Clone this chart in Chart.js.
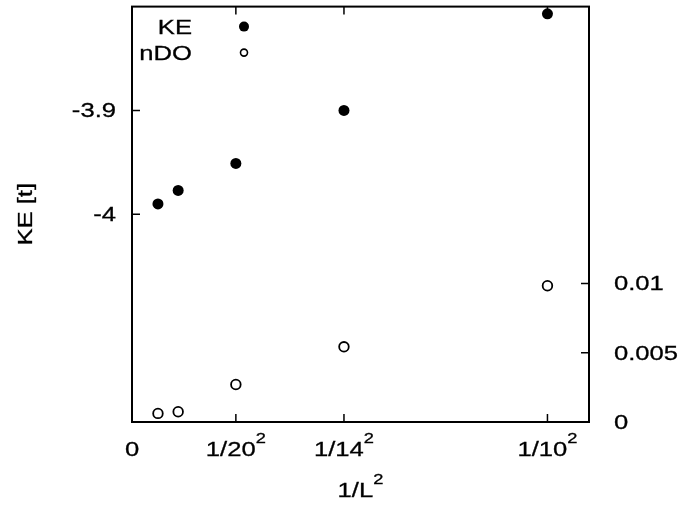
<!DOCTYPE html>
<html>
<head>
<meta charset="utf-8">
<script src="https://cdn.jsdelivr.net/npm/chart.js@4"></script>
<style>
  body { margin: 0; background: #fff; }
  #wrap { width: 678px; height: 505px; position: relative; }
</style>
</head>
<body>
<div id="wrap"><canvas id="ke__graph"></canvas></div>
<script>
// KE and nDO against 1/L^2

const xValues = [0.000625, 0.001111, 0.0025, 0.005102, 0.01];
const keValues = [-3.990, -3.977, -3.951, -3.900, -3.807];
const ndoValues = [0.00062, 0.00074, 0.00271, 0.00543, 0.00984];

const xTicks = [0, 0.0025, 0.005102, 0.01];
const xTickLabels = ['0', '1/20', '1/14', '1/10'];
const xTickSups = ['', '2', '2', '2'];
const keTicks = [-4, -3.9];
const keTickLabels = ['-4', '-3.9'];
const ndoTicks = [0, 0.005, 0.01];
const ndoTickLabels = ['0', '0.005', '0.01'];

const FONT = '"Liberation Sans", Arial, sans-serif';
const SX = 1.22; // the scanned lettering is wide

function txt(ctx, s, x, y, align, size, rot) {
  ctx.save();
  ctx.translate(x, y);
  if (rot) ctx.rotate(rot);
  ctx.scale(SX, 1);
  ctx.font = size + 'px ' + FONT;
  ctx.textAlign = align;
  ctx.lineWidth = 0.3;
  ctx.fillText(s, 0, 0);
  ctx.strokeText(s, 0, 0);
  ctx.restore();
}
function wid(ctx, s, size) {
  ctx.font = size + 'px ' + FONT;
  return ctx.measureText(s).width * SX;
}
// text with superscript, centred at x
function supText(ctx, s, sup, x, y) {
  const w1 = wid(ctx, s, 21);
  const w2 = sup ? wid(ctx, sup, 15) : 0;
  const x0 = x - (w1 + w2) / 2;
  txt(ctx, s, x0, y, 'left', 21);
  if (sup) txt(ctx, sup, x0 + w1, y - 13, 'left', 15);
}

const data = {
  datasets: [{
    label: 'KE',
    yAxisID: 'y',
    data: xValues.map((x, i) => ({x: x, y: keValues[i]})),
    backgroundColor: '#000',
    borderWidth: 0,
    pointRadius: 5.5
  }, {
    label: 'nDO',
    yAxisID: 'y2',
    data: xValues.map((x, i) => ({x: x, y: ndoValues[i]})),
    backgroundColor: '#fff',
    borderColor: '#000',
    borderWidth: 1.8,
    pointRadius: 4.8
  }]
};

// frame, inward ticks, labels, titles, legend
const decor = {
  id: 'decor',
  afterDraw(chart) {
    const ctx = chart.ctx;
    const a = chart.chartArea;
    const sx = chart.scales.x, sy = chart.scales.y, sy2 = chart.scales.y2;
    ctx.save();
    ctx.strokeStyle = '#000';
    ctx.fillStyle = '#000';
    ctx.lineWidth = 2;
    ctx.strokeRect(a.left, a.top, a.right - a.left, a.bottom - a.top);

    ctx.lineWidth = 1.5;
    ctx.beginPath();
    xTicks.forEach(v => {
      if (v === 0) return;
      const px = sx.getPixelForValue(v);
      ctx.moveTo(px, a.bottom); ctx.lineTo(px, a.bottom - 8);
      ctx.moveTo(px, a.top); ctx.lineTo(px, a.top + 8);
    });
    keTicks.forEach(v => {
      const py = sy.getPixelForValue(v);
      ctx.moveTo(a.left, py); ctx.lineTo(a.left + 8, py);
    });
    ndoTicks.forEach(v => {
      if (v === 0) return;
      const py = sy2.getPixelForValue(v);
      ctx.moveTo(a.right, py); ctx.lineTo(a.right - 8, py);
    });
    ctx.stroke();

    ctx.textBaseline = 'alphabetic';
    xTicks.forEach((v, i) => {
      supText(ctx, xTickLabels[i], xTickSups[i], sx.getPixelForValue(v), a.bottom + 34);
    });
    supText(ctx, '1/L', '2', (a.left + a.right) / 2, a.bottom + 75);

    ctx.textBaseline = 'middle';
    keTicks.forEach((v, i) => {
      txt(ctx, keTickLabels[i], a.left - 16, sy.getPixelForValue(v) + 1, 'right', 21);
    });
    ndoTicks.forEach((v, i) => {
      txt(ctx, ndoTickLabels[i], a.right + 25, sy2.getPixelForValue(v) + 1, 'left', 21);
    });

    txt(ctx, 'KE [t]', 26, (a.top + a.bottom) / 2, 'center', 21, -Math.PI / 2);

    // legend
    txt(ctx, 'KE', a.left + 60, a.top + 22, 'right', 21);
    txt(ctx, 'nDO', a.left + 60, a.top + 48, 'right', 21);
    ctx.beginPath();
    ctx.arc(a.left + 112, a.top + 20, 5, 0, Math.PI * 2);
    ctx.fill();
    ctx.beginPath();
    ctx.lineWidth = 1.6;
    ctx.arc(a.left + 112, a.top + 46, 3.5, 0, Math.PI * 2);
    ctx.stroke();
    ctx.restore();
  }
};

const hidden = {
  grid: { display: false, drawTicks: false },
  border: { display: false },
  ticks: { display: false }
};

const config = {
  type: 'scatter',
  data: data,
  options: {
    responsive: true,
    maintainAspectRatio: false,
    animation: false,
    layout: { padding: { top: 2, left: 0, right: 0, bottom: 0 } },
    plugins: { legend: { display: false }, tooltip: { enabled: false } },
    scales: {
      x: Object.assign({
        type: 'linear', min: 0, max: 0.011,
        afterFit(s) { s.height = 83; }
      }, hidden),
      y: Object.assign({
        type: 'linear', position: 'left', min: -4.2, max: -3.8,
        afterFit(s) { s.width = 132; }
      }, hidden),
      y2: Object.assign({
        type: 'linear', position: 'right', min: 0, max: 0.03,
        afterFit(s) { s.width = 89; }
      }, hidden)
    }
  },
  plugins: [decor]
};

const myChart = new Chart(document.getElementById('ke__graph'), config);
</script>
</body>
</html>
